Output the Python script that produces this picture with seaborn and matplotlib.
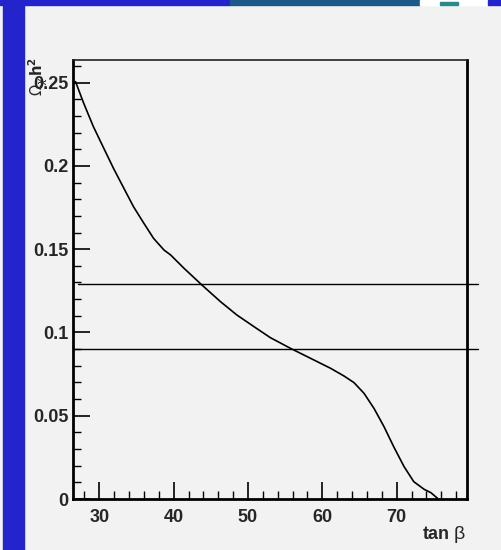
import matplotlib
matplotlib.use("Agg")
import matplotlib.pyplot as plt
import seaborn as sns
import pandas as pd
from matplotlib.patches import Rectangle
from matplotlib.ticker import MultipleLocator

# ---- data ----
tan_beta = [26.8, 27.9, 29.2, 30.6, 31.9, 33.3, 34.6, 36.0, 37.3, 38.7, 39.6,
            41.4, 43.8, 46.3, 48.5, 50.8, 53.0, 55.7, 58.4, 61.1, 62.9, 64.25,
            65.6, 66.95, 68.3, 69.6, 71.0, 72.3, 73.7, 74.6, 75.5]
omega_h2 = [0.2506, 0.2376, 0.2236, 0.2106, 0.1986, 0.1866, 0.1755, 0.1655,
            0.1565, 0.1495, 0.1465, 0.1385, 0.1285, 0.1185, 0.1105, 0.1035,
            0.0969, 0.0905, 0.0845, 0.0785, 0.0739, 0.0699, 0.0635, 0.0544,
            0.0434, 0.0314, 0.0194, 0.0104, 0.0058, 0.0038, 0.0004]
band_levels = [0.129, 0.090]
band_x_start = [27.1, 26.5]
band_x_end = 81.0
x_ticks = [30, 40, 50, 60, 70]
y_ticks = [0, 0.05, 0.1, 0.15, 0.2, 0.25]
y_tick_labels = ["0", "0.05", "0.1", "0.15", "0.2", "0.25"]

sns.set_theme(style="ticks")
plt.rcParams["font.family"] = ["Liberation Sans", "DejaVu Sans"]

bg = "#f2f2f2"
fig = plt.figure(figsize=(5.02, 5.5), dpi=100, facecolor=bg)

# background decorations (blue slide frame, logo strip)
blue = "#2424cc"
fig.patches.append(Rectangle((3 / 502, 0), 21 / 502, 1, transform=fig.transFigure,
                             color=blue, zorder=0))
fig.patches.append(Rectangle((0, 1 - 5 / 550), 230 / 502, 5 / 550,
                             transform=fig.transFigure, color=blue, zorder=0))
fig.patches.append(Rectangle((230 / 502, 1 - 5 / 550), 190 / 502, 5 / 550,
                             transform=fig.transFigure, color="#1b5a88", zorder=0))
fig.patches.append(Rectangle((420 / 502, 1 - 5 / 550), 68 / 502, 5 / 550,
                             transform=fig.transFigure, color="white", zorder=0))
fig.patches.append(Rectangle((440 / 502, 1 - 5 / 550), 18 / 502, 3 / 550,
                             transform=fig.transFigure, color="#2a8a8a", zorder=0))
fig.patches.append(Rectangle((488 / 502, 1 - 5 / 550), 14 / 502, 5 / 550,
                             transform=fig.transFigure, color=blue, zorder=0))

ax = fig.add_axes([73.3 / 502, 1 - 499 / 550, 394 / 502, 439 / 550])
ax.set_facecolor(bg)

df = pd.DataFrame({"tanb": tan_beta, "oh2": omega_h2})
sns.lineplot(data=df, x="tanb", y="oh2", ax=ax, color="black", linewidth=1.2,
             sort=False, estimator=None)

for lvl, x0 in zip(band_levels, band_x_start):
    ax.plot([x0, band_x_end], [lvl, lvl], color="black", linewidth=1.0, clip_on=False)

ax.set_xlim(26.5, 79.5)
ax.set_ylim(0, 0.2636)

ax.set_xticks(x_ticks)
ax.xaxis.set_minor_locator(MultipleLocator(2))
ax.set_yticks(y_ticks)
ax.set_yticklabels(y_tick_labels)
ax.yaxis.set_minor_locator(MultipleLocator(0.01))

ax.tick_params(axis="both", which="major", direction="in", length=12, width=1.2,
               labelsize=13, color="black")
ax.tick_params(axis="both", which="minor", direction="in", length=6, width=1.0,
               color="black")
ax.tick_params(axis="x", which="major", pad=7)
ax.tick_params(axis="y", which="major", pad=3.5)
for lab in ax.get_xticklabels() + ax.get_yticklabels():
    lab.set_fontweight("bold")

for side in ["left", "bottom", "right"]:
    ax.spines[side].set_linewidth(2.0)
    ax.spines[side].set_color("black")
    ax.spines[side].set_visible(True)
ax.spines["top"].set_linewidth(1.2)
ax.spines["top"].set_color("#222222")
ax.spines["top"].set_visible(True)

ax.set_xlabel("")
ax.set_ylabel("")

# axis titles, ROOT style at the axis ends
ax.text(0.955, -0.08, "tan", transform=ax.transAxes, ha="right", va="center",
        fontsize=13, fontweight="bold")
ax.text(0.994, -0.08, "β", transform=ax.transAxes, ha="right", va="center",
        fontsize=14)

ax.text(-0.089, 1.007, r"$\Omega_{\chi}\,\mathbf{h}^{\mathbf{2}}$", transform=ax.transAxes,
        rotation=90, ha="center", va="top", fontsize=10.5)

fig.savefig("out.png", dpi=100, facecolor=bg)
